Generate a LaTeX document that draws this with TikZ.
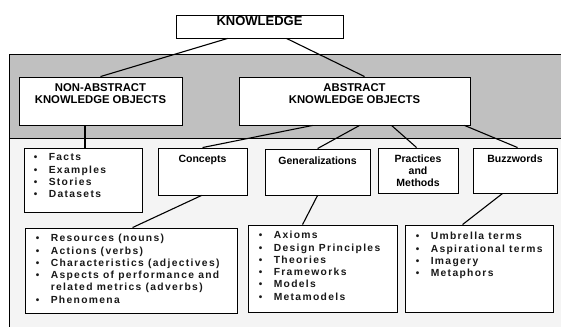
\documentclass[tikz,border=0pt]{standalone}
\usepackage{fontspec}
\setmainfont{Liberation Sans}
\newfontfamily\listfont[LetterSpace=13]{Liberation Sans}
\usetikzlibrary{positioning}

\newcommand{\bitem}{\makebox[15pt][l]{\fontsize{10}{10}\selectfont\textbullet}}

\begin{document}
\begin{tikzpicture}[x=1pt, y=-1pt,
    box/.style={draw, line width=0.9pt, fill=white, inner sep=0pt},
    head/.style={font=\bfseries\fontsize{11.3}{12.5}\selectfont, align=center, inner sep=0pt},
    sub/.style={font=\bfseries\fontsize{10.5}{12}\selectfont, align=center, inner sep=0pt},
    list/.style={font=\listfont\bfseries\fontsize{10.3}{12.3}\selectfont, align=left, inner sep=0pt, anchor=north west, text=black!90},
    link/.style={line width=1.1pt}]
  \definecolor{panelgray}{RGB}{192,192,192}
  \definecolor{paperwhite}{RGB}{244,244,244}
  \useasboundingbox (0,0) rectangle (561,326);
  \fill [paperwhite] (9,138) rectangle (562,327);
  \fill [panelgray] (9,54) rectangle (562,138);
  \draw [line width=0.9pt] (562,54) -- (9,54) -- (9,327);
  \draw [line width=0.7pt] (9,138) -- (562,138);

  \node [box, minimum width=167pt, minimum height=23pt] (know) at (259.5,26.5) {};
  \node [head, font=\bfseries\fontsize{13}{14}\selectfont, below=1.6pt of know.north] (knowtext) {KNOWLEDGE};

  \node [box, minimum width=163pt, minimum height=48pt] (nonabs) at (100.5,101) {};
  \node [head, below=6.5pt of nonabs.north] (nonabstext) {NON-ABSTRACT\\KNOWLEDGE OBJECTS};
  \node [box, minimum width=231pt, minimum height=48pt] (abs) at (354.5,101) {};
  \node [head, below=6.5pt of abs.north] (abstext) {ABSTRACT\\KNOWLEDGE OBJECTS};

  \node [box, minimum width=118pt, minimum height=64pt] (facts) at (83,180) {};
  \node [box, minimum width=89pt, minimum height=47pt] (concepts) at (202.5,171.5) {};
  \node [sub, below=7pt of concepts.north] (conceptstext) {Concepts};
  \node [box, minimum width=105pt, minimum height=46pt] (gener) at (317.5,172) {};
  \node [sub, below=8pt of gener.north] (genertext) {Generalizations};
  \node [box, minimum width=80pt, minimum height=45pt] (practices) at (418,170.5) {};
  \node [sub, below=7pt of practices.north] (practicestext) {Practices\\and\\Methods};
  \node [box, minimum width=84pt, minimum height=45pt] (buzz) at (515,170.5) {};
  \node [sub, below=7pt of buzz.north] (buzztext) {Buzzwords};

  \node [box, minimum width=212pt, minimum height=85pt] (conceptlist) at (131,270.5) {};
  \node [box, minimum width=149pt, minimum height=87pt] (generlist) at (322.5,268.5) {};
  \node [box, minimum width=148pt, minimum height=87pt] (buzzlist) at (479,268.5) {};

  \node [list] (factsitems) at ([xshift=10pt, yshift=-6pt]facts.north west)
    {\bitem Facts\\ \bitem Examples\\ \bitem Stories\\ \bitem Datasets};
  \node [list] (conceptitems) at ([xshift=11pt, yshift=-6.5pt]conceptlist.north west)
    {\bitem Resources (nouns)\\ \bitem Actions (verbs)\\ \bitem Characteristics (adjectives)\\
     \bitem Aspects of performance and\\ \hspace*{15pt}related metrics (adverbs)\\ \bitem Phenomena};
  \node [list] (generitems) at ([xshift=11pt, yshift=-6.5pt]generlist.north west)
    {\bitem Axioms\\ \bitem Design Principles\\ \bitem Theories\\ \bitem Frameworks\\ \bitem Models\\ \bitem Metamodels};
  \node [list] (buzzitems) at ([xshift=11pt, yshift=-7.5pt]buzzlist.north west)
    {\bitem Umbrella terms\\ \bitem Aspirational terms\\ \bitem Imagery\\ \bitem Metaphors};

  \draw [link] ([xshift=52pt]know.south west) -- (nonabs.north);
  \draw [link] ([xshift=111pt]know.south west) -- ([xshift=126pt]abs.north west);
  \draw [line width=2pt] ([xshift=66pt]nonabs.south west) -- ([xshift=61pt]facts.north west);
  \draw [link] ([xshift=74pt]abs.south west) -- ([xshift=45pt]concepts.north west);
  \draw [link] ([xshift=121pt]abs.south west) -- ([xshift=53pt]gener.north west);
  \draw [link] ([xshift=153pt]abs.south west) -- ([xshift=39pt]practices.north west);
  \draw [link] ([xshift=226pt]abs.south west) -- ([xshift=45pt]buzz.north west);
  \draw [link] ([xshift=44pt]concepts.south west) -- ([xshift=108pt]conceptlist.north west);
  \draw [link] ([xshift=53pt]gener.south west) -- ([xshift=55pt]generlist.north west);
  \draw [link] ([xshift=30pt]buzz.south west) -- ([xshift=58pt]buzzlist.north west);
\end{tikzpicture}
\end{document}
